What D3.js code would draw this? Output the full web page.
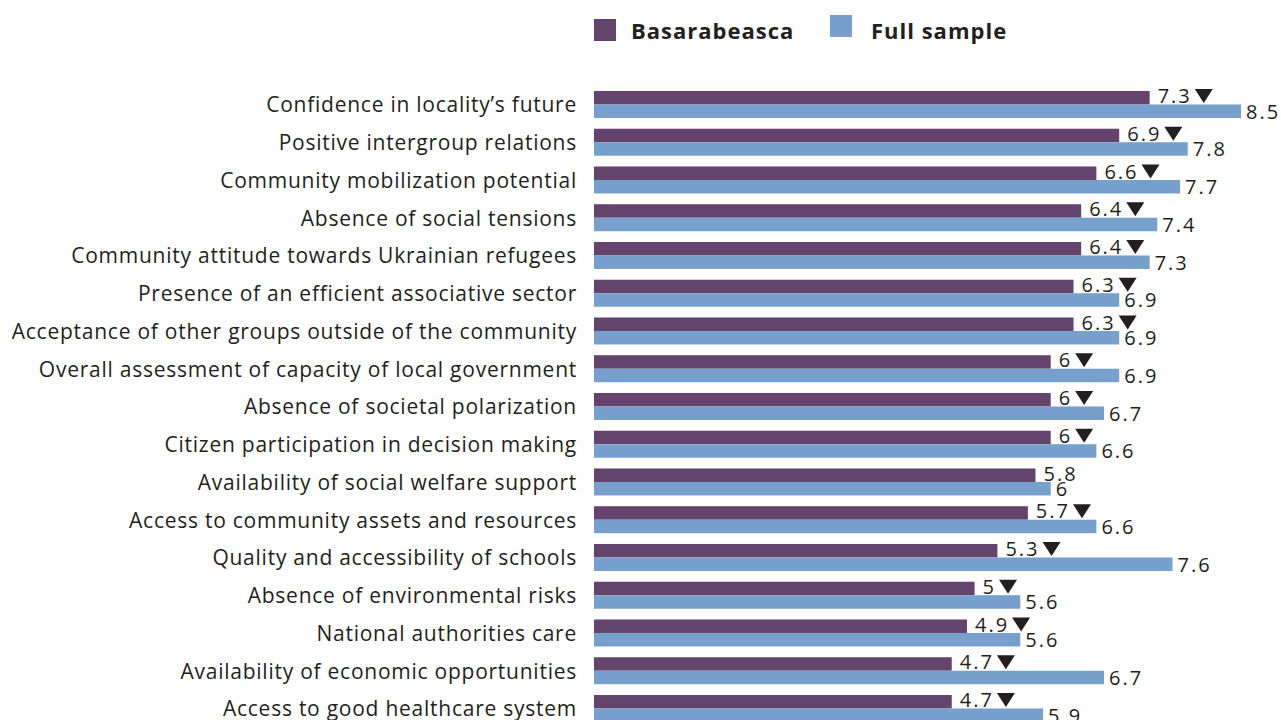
<!DOCTYPE html>
<html>
<head>
<meta charset="utf-8">
<script src="https://cdn.jsdelivr.net/npm/d3@7"></script>
<style>
body { margin: 0; background: #fff; }
text { font-family: "Open Sans", "Noto Sans", sans-serif; fill: #231f20; }
</style>
</head>
<body>
<script>
// data
var categories = [
"Confidence in locality\u2019s future",
"Positive intergroup relations",
"Community mobilization potential",
"Absence of social tensions",
"Community attitude towards Ukrainian refugees",
"Presence of an efficient associative sector",
"Acceptance of other groups outside of the community",
"Overall assessment of capacity of local government",
"Absence of societal polarization",
"Citizen participation in decision making",
"Availability of social welfare support",
"Access to community assets and resources",
"Quality and accessibility of schools",
"Absence of environmental risks",
"National authorities care",
"Availability of economic opportunities",
"Access to good healthcare system"
]
var series = ["Basarabeasca", "Full sample"]
var basarabeasca = [7.3, 6.9, 6.6, 6.4, 6.4, 6.3, 6.3, 6, 6, 6, 5.8, 5.7, 5.3, 5, 4.9, 4.7, 4.7]
var full_sample = [8.5, 7.8, 7.7, 7.4, 7.3, 6.9, 6.9, 6.9, 6.7, 6.6, 6, 6.6, 7.6, 5.6, 5.6, 6.7, 5.9]
// significantly lower than the full sample
var lower = [1, 1, 1, 1, 1, 1, 1, 1, 1, 1, 0, 1, 1, 1, 1, 1, 1]

var colors = ["#64446c", "#77a0cc"]
var w = 1281, h = 720
var svg = d3.select("body").append("svg")
.attr("width", w)
.attr("height", h)

var x = d3.scaleLinear()
.domain([0, 8.5])
.range([594, 1241])
var y = d3.scaleBand()
.domain(categories)
.range([85.6, 85.6 + categories.length*37.75])
.paddingInner(0.285)
.paddingOuter(0.1425)
var y1 = d3.scaleBand()
.domain(series)
.range([0, y.bandwidth()])

// legend
var legend = svg.append("g")
var legend_x = [594, 830]
var legend_y = [19, 15]
var legend_dx = [37, 41]
series.forEach(function(s, i)
{
legend.append("rect")
.attr("x", legend_x[i])
.attr("y", legend_y[i])
.attr("width", 22)
.attr("height", 22)
.attr("fill", colors[i])
legend.append("text")
.attr("x", legend_x[i] + legend_dx[i])
.attr("y", 30)
.attr("dominant-baseline", "central")
.style("font-size", "22px")
.style("font-weight", "bold")
.style("letter-spacing", "1px")
.text(s)
})

// category labels
svg.append("g").selectAll("text")
.data(categories)
.enter().append("text")
.attr("x", 577)
.attr("y", function(d) { return y(d) + y.bandwidth()/2 })
.attr("text-anchor", "end")
.attr("dominant-baseline", "central")
.style("font-size", "21px")
.style("letter-spacing", "0.75px")
.text(function(d) { return d })

var rows = categories.map(function(c, i) {
return {cat: c, vals: [basarabeasca[i], full_sample[i]], lower: lower[i]}
})

var groups = svg.append("g").selectAll("g")
.data(rows)
.enter().append("g")
.attr("transform", function(d) { return "translate(0," + y(d.cat) + ")" })

groups.selectAll("rect")
.data(function(d) { return d.vals.map(function(v, k) { return {s: series[k], v: v, k: k} }) })
.enter().append("rect")
.attr("x", x(0))
.attr("y", function(d) { return y1(d.s) })
.attr("width", function(d) { return x(d.v) - x(0) })
.attr("height", y1.bandwidth())
.attr("fill", function(d) { return colors[d.k] })

groups.each(function(d)
{
var g = d3.select(this)
var t0 = g.append("text")
.attr("x", x(d.vals[0]) + 8)
.attr("y", y1(series[0]) + y1.bandwidth()/2 - 2)
.attr("dominant-baseline", "central")
.style("font-size", "20px")
.style("letter-spacing", "2px")
.text(d.vals[0])
g.append("text")
.attr("x", x(d.vals[1]) + 5)
.attr("y", y1(series[1]) + y1.bandwidth()/2)
.attr("dominant-baseline", "central")
.style("font-size", "20px")
.style("letter-spacing", "2px")
.text(d.vals[1])
if (d.lower)
{
var tx = x(d.vals[0]) + 8 + t0.node().getComputedTextLength() + 3
g.append("path")
.attr("d", "M" + tx + ",-2 L" + (tx + 18) + ",-2 L" + (tx + 9) + ",12 Z")
.attr("fill", "#231f20")
}
})
</script>
</body>
</html>
